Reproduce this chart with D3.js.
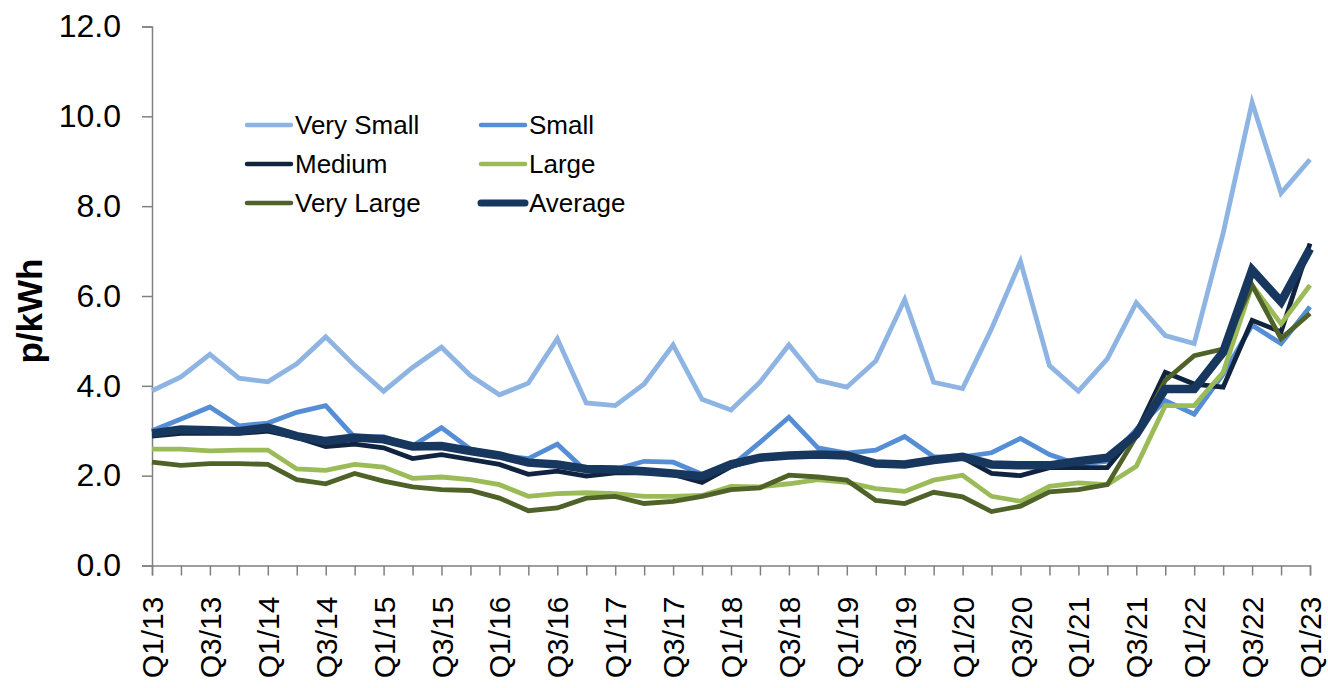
<!DOCTYPE html>
<html>
<head>
<meta charset="utf-8">
<script src="https://cdn.jsdelivr.net/npm/d3@7"></script>
<style>
	body { margin: 0; background: #fff; }
	svg { font-family: Arial, "Liberation Sans", sans-serif; }
</style>
</head>
<body>
<script>
// quarters Q1/13 .. Q1/23
var quarters = [];
for (var yr = 13; yr <= 23; yr++) {
	for (var q = 1; q <= 4; q++) {
		if (yr === 23 && q > 1) break;
		quarters.push('Q' + q + '/' + yr);
	}
}

var yTicks = [0, 2, 4, 6, 8, 10, 12];

// p/kWh
var verySmall = [3.89, 4.20, 4.70, 4.17, 4.09, 4.49, 5.09, 4.45, 3.88, 4.41,
	4.86, 4.23, 3.80, 4.06, 5.05, 3.62, 3.56, 4.04, 4.91, 3.70,
	3.46, 4.08, 4.91, 4.12, 3.97, 4.55, 5.92, 4.08, 3.94, 5.27,
	6.77, 4.45, 3.88, 4.60, 5.85, 5.12, 4.94, 7.40, 10.31, 8.29, 9.04];
var small = [3.00, 3.26, 3.53, 3.11, 3.17, 3.41, 3.56, 2.85, 2.87, 2.66,
	3.07, 2.59, 2.45, 2.38, 2.70, 2.10, 2.14, 2.32, 2.30, 2.03,
	2.21, 2.74, 3.30, 2.62, 2.50, 2.57, 2.87, 2.42, 2.42, 2.51,
	2.83, 2.47, 2.25, 2.32, 3.03, 3.67, 3.37, 4.26, 5.35, 4.94, 5.76];
var medium = [2.88, 2.94, 2.94, 2.94, 2.99, 2.85, 2.65, 2.70, 2.62, 2.38,
	2.47, 2.36, 2.25, 2.03, 2.10, 1.99, 2.06, 2.07, 2.03, 1.85,
	2.20, 2.40, 2.44, 2.47, 2.44, 2.25, 2.25, 2.33, 2.40, 2.05,
	2.00, 2.18, 2.18, 2.18, 2.96, 4.30, 4.04, 3.97, 5.46, 5.20, 7.17];
var large = [2.59, 2.59, 2.55, 2.57, 2.57, 2.15, 2.12, 2.25, 2.19, 1.94,
	1.97, 1.91, 1.80, 1.54, 1.60, 1.62, 1.60, 1.54, 1.54, 1.56,
	1.76, 1.75, 1.82, 1.91, 1.85, 1.71, 1.65, 1.90, 2.01, 1.54,
	1.43, 1.76, 1.84, 1.80, 2.21, 3.56, 3.56, 4.30, 6.24, 5.38, 6.24];
var veryLarge = [2.30, 2.23, 2.27, 2.27, 2.25, 1.91, 1.82, 2.05, 1.88, 1.75,
	1.69, 1.67, 1.50, 1.22, 1.28, 1.50, 1.54, 1.38, 1.43, 1.54,
	1.69, 1.73, 2.01, 1.97, 1.90, 1.45, 1.38, 1.63, 1.53, 1.20,
	1.32, 1.64, 1.69, 1.80, 2.88, 4.12, 4.67, 4.82, 6.24, 5.05, 5.61];
var average = [2.94, 3.03, 3.01, 2.99, 3.07, 2.88, 2.77, 2.85, 2.81, 2.65,
	2.66, 2.55, 2.45, 2.29, 2.25, 2.15, 2.14, 2.10, 2.05, 1.99,
	2.25, 2.40, 2.45, 2.47, 2.45, 2.27, 2.25, 2.35, 2.42, 2.25,
	2.23, 2.23, 2.32, 2.40, 2.92, 3.93, 3.93, 4.75, 6.58, 5.87, 7.05];

var seriesNames = ['Very Small', 'Small', 'Medium', 'Large', 'Very Large', 'Average'];
var seriesValues = [verySmall, small, medium, large, veryLarge, average];
var seriesColors = ['#8db4e2', '#558ed5', '#10243f', '#9bbb59', '#4f6228', '#17375e'];
var seriesWidths = [4.8, 4.8, 4.8, 4.8, 4.8, 8.5];

var width = 1328,
	height = 688,
	margin = {top: 26.5, right: 18, bottom: 122.5, left: 152};

var svg = d3.select('body').append('svg')
	.attr('width', width)
	.attr('height', height);

var innerW = width - margin.left - margin.right,
	innerH = height - margin.top - margin.bottom;

var xScale = d3.scalePoint().domain(quarters).range([0, innerW]),
	yScale = d3.scaleLinear().domain([0, 12]).range([innerH, 0]);

var g = svg.append('g')
	.attr('transform', 'translate(' + margin.left + ',' + margin.top + ')');

// y axis
var yAxis = g.append('g')
	.call(d3.axisLeft(yScale).tickValues(yTicks).tickSize(10).tickPadding(21).tickFormat(d3.format('.1f')));
yAxis.selectAll('text').style('font-size', '32px').attr('fill', '#000');

// x axis, every quarter gets a tick, only Q1 and Q3 labelled
var xAxis = g.append('g')
	.attr('transform', 'translate(0,' + innerH + ')')
	.call(d3.axisBottom(xScale).tickSize(10).tickFormat(function(d, i) {
		return i % 2 === 0 ? d : '';
	}));
xAxis.selectAll('text')
	.style('font-size', '30px')
	.attr('fill', '#000')
	.attr('text-anchor', 'end')
	.attr('transform', 'rotate(-90)')
	.attr('x', -31)
	.attr('y', 0)
	.attr('dy', '0.35em');

g.selectAll('.domain, .tick line').attr('stroke', '#808080').attr('stroke-width', 1.5);

// y axis title
svg.append('text')
	.attr('transform', 'translate(42,311) rotate(-90)')
	.attr('text-anchor', 'middle')
	.style('font-size', '35px')
	.style('font-weight', 'bold')
	.text('p/kWh');

// lines
var line = d3.line()
	.x(function(d, i) { return xScale(quarters[i]); })
	.y(function(d) { return yScale(d); });

g.selectAll('.series')
	.data(seriesValues)
	.enter().append('path')
	.attr('class', 'series')
	.attr('fill', 'none')
	.attr('stroke', function(d, i) { return seriesColors[i]; })
	.attr('stroke-width', function(d, i) { return seriesWidths[i]; })
	.attr('d', line);

// legend, two columns
var legend = svg.selectAll('.legend')
	.data(seriesNames)
	.enter().append('g')
	.attr('class', 'legend')
	.attr('transform', function(d, i) {
		var col = i % 2, row = Math.floor(i / 2);
		return 'translate(' + (247 + col * 234) + ',' + (125 + row * 39) + ')';
	});

legend.append('line')
	.attr('x1', 0)
	.attr('x2', 44)
	.attr('stroke', function(d, i) { return seriesColors[i]; })
	.attr('stroke-width', function(d, i) { return i === 5 ? 7 : 4.5; })
	.attr('stroke-linecap', 'round');

legend.append('text')
	.attr('x', 48)
	.attr('dy', '0.35em')
	.style('font-size', '26px')
	.text(function(d) { return d; });
</script>
</body>
</html>
